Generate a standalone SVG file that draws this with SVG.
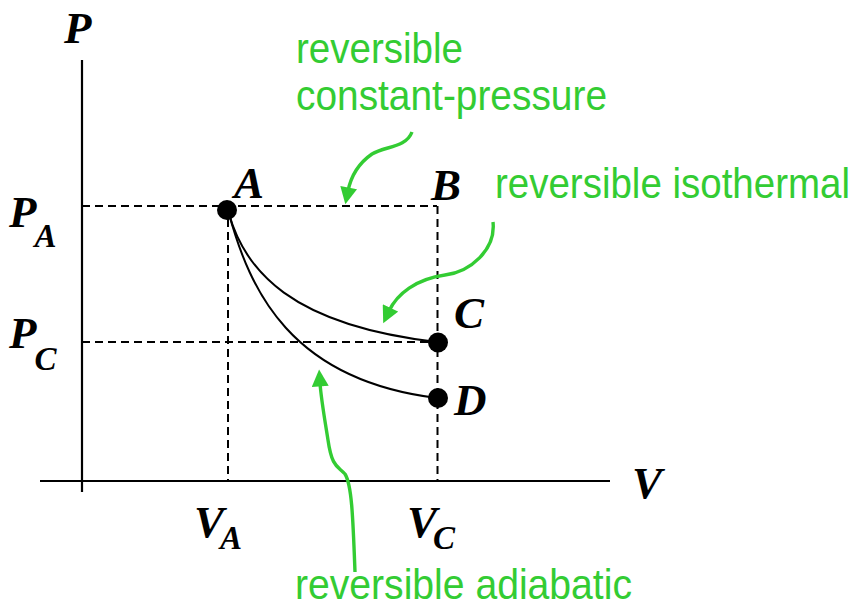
<svg xmlns="http://www.w3.org/2000/svg" width="856" height="607" viewBox="0 0 856 607">
<style>
.ax{stroke:#000;stroke-width:2.2;fill:none}
.dash{stroke:#000;stroke-width:2;fill:none;stroke-dasharray:8,5}
.curve{stroke:#000;stroke-width:2;fill:none}
.g{stroke:#33cc33;stroke-width:3.4;fill:none;marker-end:url(#ah)}
.lbl{font-family:"Liberation Serif","Times New Roman",serif;font-weight:bold;font-style:italic;font-size:45px;fill:#000}
.sub{font-size:33px}
.gt{font-family:"Liberation Sans",Arial,sans-serif;font-size:42px;fill:#33cc33}
</style>
<defs>
<marker id="ah" viewBox="0 0 10 10" refX="2" refY="5" markerWidth="5.2" markerHeight="5" orient="auto" markerUnits="strokeWidth">
<path d="M0,0 L10,5 L0,10 z" fill="#33cc33"/>
</marker>
</defs>
<g id="axes">
<line class="ax" x1="82" y1="60" x2="82" y2="492"/>
<line class="ax" x1="40" y1="481" x2="610" y2="481"/>
<text class="lbl" x="64" y="43">P</text>
<text class="lbl" x="632" y="498">V</text>
</g>
<g id="guides">
<line class="dash" x1="82" y1="206" x2="437" y2="206"/>
<line class="dash" x1="82" y1="342" x2="437" y2="342"/>
<line class="dash" x1="228" y1="206" x2="228" y2="481"/>
<line class="dash" x1="437.5" y1="206" x2="437.5" y2="481"/>
</g>
<g id="axis-labels">
<text class="lbl" x="9" y="227">P<tspan class="sub" dy="20" dx="-2">A</tspan></text>
<text class="lbl" x="9" y="348">P<tspan class="sub" dy="22" dx="-2">C</tspan></text>
<text class="lbl" x="194" y="537">V<tspan class="sub" dy="12" dx="-4">A</tspan></text>
<text class="lbl" x="407" y="537">V<tspan class="sub" dy="12" dx="-4">C</tspan></text>
</g>
<g id="connectors">
<path class="curve" d="M229,214 C245,270 290,325 437,342"/>
<path class="curve" d="M229,214 C250,290 290,380 437,398"/>
<path class="g" d="M412,132 C406,148 385,146 372,154 C359,163 351,176 348,191"/>
<path class="g" d="M493,222 C496,250 470,272 445,275 C416,279 397,294 389,311"/>
<path class="g" d="M355,572 C353,520 352,485 345,474 C338,466 332,468 328,440 C324,415 321,398 320,383"/>
</g>
<g id="node-A">
<circle cx="227" cy="210" r="10"/>
<text class="lbl" x="234" y="198">A</text>
</g>
<g id="node-B">
<text class="lbl" x="431" y="200">B</text>
</g>
<g id="node-C">
<circle cx="438" cy="342.5" r="10"/>
<text class="lbl" x="454" y="328">C</text>
</g>
<g id="node-D">
<circle cx="438" cy="398" r="10"/>
<text class="lbl" x="454" y="415">D</text>
</g>
<g id="annotations">
<text class="gt" x="296" y="63" textLength="167" lengthAdjust="spacingAndGlyphs">reversible</text>
<text class="gt" x="296" y="110" textLength="311" lengthAdjust="spacingAndGlyphs">constant-pressure</text>
<text class="gt" x="495" y="198" font-size="40" textLength="355" lengthAdjust="spacingAndGlyphs">reversible isothermal</text>
<text class="gt" x="295" y="599" font-size="41" textLength="337" lengthAdjust="spacingAndGlyphs">reversible adiabatic</text>
</g>
</svg>
